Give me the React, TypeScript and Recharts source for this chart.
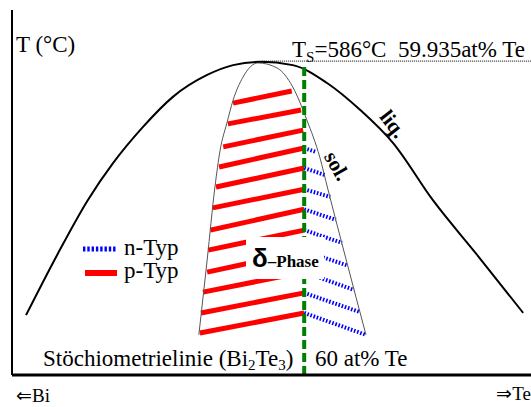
import { ComposedChart, Line, XAxis, YAxis } from 'recharts';

// schematic units: x = relative composition (0..100), y = relative temperature (0..100)
const liquidus = [
  { x: 2.7, y: 16.4 }, { x: 8.7, y: 32.9 }, { x: 14.6, y: 47.9 }, { x: 19.5, y: 58.1 },
  { x: 25.2, y: 67.9 }, { x: 31.0, y: 76.2 }, { x: 37.6, y: 82.2 }, { x: 42.6, y: 84.9 },
  { x: 47.8, y: 85.8 }, { x: 54.1, y: 84.9 }, { x: 60.7, y: 80.0 }, { x: 67.1, y: 72.6 },
  { x: 73.4, y: 63.6 }, { x: 81.1, y: 47.9 }, { x: 89.8, y: 32.6 }, { x: 98.5, y: 17.0 },
];

const solidus = [
  { x: 36.0, y: 11.0 }, { x: 37.6, y: 31.5 }, { x: 39.1, y: 51.5 }, { x: 40.1, y: 61.6 },
  { x: 41.4, y: 69.0 }, { x: 42.6, y: 75.3 }, { x: 44.5, y: 81.6 }, { x: 47.4, y: 85.5 },
  { x: 51.1, y: 84.1 }, { x: 54.1, y: 78.9 }, { x: 56.8, y: 69.9 }, { x: 59.3, y: 59.7 },
  { x: 60.9, y: 50.7 }, { x: 64.4, y: 31.5 }, { x: 68.2, y: 11.0 },
];

// stoichiometric line (60 at% Te) and the congruent melting point
const stoichX = 56.3;
const stoichTop = 84.4;
const meltY = 86.0;
const meltX = 48.2;

// p-type hatch: [x1, y1, x2, y2]
const pHatch = [
  [42.6, 74.5, 53.9, 77.8],
  [41.6, 68.8, 55.7, 72.6],
  [40.7, 62.5, 56.1, 67.1],
  [39.9, 57.0, 56.3, 62.2],
  [39.3, 51.5, 56.3, 56.7],
  [38.7, 45.8, 56.3, 50.9],
  [38.2, 39.7, 56.3, 45.4],
  [37.8, 34.2, 56.3, 39.7],
  [37.6, 28.2, 56.3, 33.9],
  [36.8, 22.7, 56.3, 28.2],
  [36.4, 17.0, 56.3, 22.5],
  [36.2, 11.5, 56.3, 17.0],
];

// n-type hatch: [x1, y1, x2, y2]
const nHatch = [
  [56.3, 62.2, 58.6, 61.1],
  [56.3, 56.7, 60.3, 54.8],
  [56.3, 50.9, 61.3, 48.8],
  [56.3, 45.4, 62.4, 42.5],
  [56.3, 39.7, 63.6, 36.2],
  [56.3, 33.9, 64.5, 30.1],
  [56.3, 28.2, 65.9, 23.3],
  [56.3, 22.5, 66.9, 17.3],
  [56.3, 17.0, 68.2, 11.0],
];

const seg = (s: number[]) => [{ x: s[0], y: s[1] }, { x: s[2], y: s[3] }];

const serif = '"Liberation Serif", "Times New Roman", serif';

export default function App() {
  return (
    <div style={{ position: 'absolute', left: 0, top: 0, width: 531, height: 407, background: '#fff' }}>
      <ComposedChart width={531} height={407} margin={{ top: 10, right: 0, bottom: 31, left: 11 }}>
        <XAxis
          dataKey="x"
          type="number"
          domain={[0, 100]}
          allowDataOverflow
          height={1}
          tick={false}
          tickLine={false}
          axisLine={{ stroke: '#000', strokeWidth: 3 }}
        />
        <YAxis
          type="number"
          domain={[0, 100]}
          allowDataOverflow
          width={1}
          tick={false}
          tickLine={false}
          axisLine={{ stroke: '#000', strokeWidth: 2 }}
        />

        {/* dotted line at the melting maximum */}
        <Line
          data={[{ x: meltX, y: meltY }, { x: 100, y: meltY }]}
          dataKey="y"
          stroke="#000"
          strokeWidth={1}
          strokeDasharray="1 1"
          dot={false}
          isAnimationActive={false}
        />

        {pHatch.map((s, i) => (
          <Line
            key={'p' + i}
            data={seg(s)}
            dataKey="y"
            type="linear"
            stroke="#ff0000"
            strokeWidth={5}
            dot={false}
            isAnimationActive={false}
          />
        ))}
        {nHatch.map((s, i) => (
          <Line
            key={'n' + i}
            data={seg(s)}
            dataKey="y"
            type="linear"
            stroke="#0000ff"
            strokeWidth={4}
            strokeDasharray="1.6 1.7"
            dot={false}
            isAnimationActive={false}
          />
        ))}

        <Line
          data={solidus}
          dataKey="y"
          type="monotone"
          stroke="#555"
          strokeWidth={1}
          dot={false}
          isAnimationActive={false}
        />
        <Line
          data={liquidus}
          dataKey="y"
          type="monotone"
          stroke="#000"
          strokeWidth={2}
          dot={false}
          isAnimationActive={false}
        />
        <Line
          data={[{ x: stoichX, y: stoichTop }, { x: stoichX, y: 0 }]}
          dataKey="y"
          type="linear"
          stroke="#008000"
          strokeWidth={4}
          strokeDasharray="9 4"
          dot={false}
          isAnimationActive={false}
        />
      </ComposedChart>

      {/* text layer on top of the plotted lines */}
      <svg
        width={531}
        height={407}
        style={{ position: 'absolute', left: 0, top: 0, pointerEvents: 'none' }}
      >
        {/* delta phase label with white box */}
        <rect x={246} y={237} width={78} height={42} fill="#fff" />
        <text x={252} y={267} fontFamily={serif} fontWeight="bold" fill="#000">
          <tspan fontSize={26} fontFamily='"Liberation Sans", Arial, sans-serif'>δ</tspan>
          <tspan fontSize={17}>–Phase</tspan>
        </text>

        {/* legend */}
        <line x1={83} y1={249} x2={117} y2={249} stroke="#0000ff" strokeWidth={5} strokeDasharray="2.4 1.9" />
        <line x1={85} y1={273} x2={117} y2={273} stroke="#ff0000" strokeWidth={6} />
        <text x={124} y={255} fontFamily={serif} fontSize={23} fill="#000">n-Typ</text>
        <text x={124} y={278} fontFamily={serif} fontSize={23} fill="#000">p-Typ</text>

        {/* labels */}
        <text x={16} y={52} fontFamily={serif} fontSize={23} fill="#000">T (°C)</text>
        <text x={292} y={57} fontFamily={serif} fontSize={23} fill="#000" style={{ whiteSpace: 'pre' }}>
          T<tspan fontSize={15} dy={5}>S</tspan>
          <tspan dy={-5}>=586°C  59.935at% Te</tspan>
        </text>
        <text
          x={393}
          y={124}
          fontFamily={serif}
          fontSize={21}
          fontWeight="bold"
          textAnchor="middle"
          dominantBaseline="central"
          transform="rotate(52 393 124)"
          fill="#000"
        >
          liq.
        </text>
        <text
          x={337}
          y={166}
          fontFamily={serif}
          fontSize={21}
          fontWeight="bold"
          textAnchor="middle"
          dominantBaseline="central"
          transform="rotate(60 337 166)"
          fill="#000"
        >
          sol.
        </text>
        <text x={43} y={366} fontFamily={serif} fontSize={23} fill="#000">
          Stöchiometrielinie (Bi<tspan fontSize={15} dy={4}>2</tspan>
          <tspan dy={-4}>Te</tspan>
          <tspan fontSize={15} dy={4}>3</tspan>
          <tspan dy={-4}>)</tspan>
        </text>
        <text x={315} y={366} fontFamily={serif} fontSize={23} fill="#000">60 at% Te</text>
        <text x={16} y={402} fontFamily={serif} fontSize={19} fill="#000">⇐Bi</text>
        <text x={531} y={400} fontFamily={serif} fontSize={19} textAnchor="end" fill="#000">⇒Te</text>
      </svg>
    </div>
  );
}
